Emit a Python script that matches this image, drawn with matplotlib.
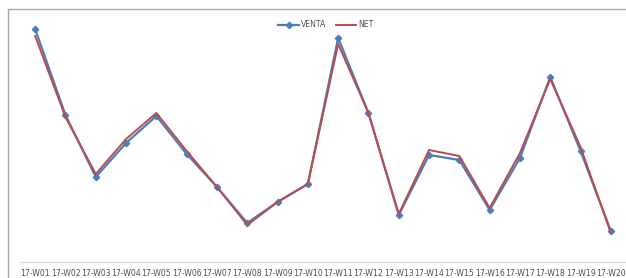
import matplotlib
matplotlib.use("Agg")
import matplotlib.pyplot as plt
from matplotlib.patches import Rectangle

# weekly values (arbitrary units)
weeks = [f"17-W{i:02d}" for i in range(1, 21)]
venta = [2330, 1470, 850, 1190, 1460, 1080, 750, 390, 600, 780,
         2240, 1490, 470, 1070, 1020, 520, 1040, 1850, 1110, 310]
net = [2260, 1450, 880, 1230, 1490, 1110, 750, 370, 600, 780,
       2180, 1490, 480, 1120, 1060, 540, 1090, 1830, 1150, 290]

BLUE = "#4a7ebb"
RED = "#be4b48"

fig = plt.figure(figsize=(6.26, 2.78), dpi=100)
ax = fig.add_axes([20 / 626, 16 / 278, 606 / 626, 245 / 278])

x = range(len(weeks))
ax.plot(x, venta, color=BLUE, lw=1.6, marker="D", ms=3.2, label="VENTA", zorder=2)
ax.plot(x, net, color=RED, lw=1.4, label="NET", zorder=3)

ax.set_xlim(-0.5, len(weeks) - 0.5)
ax.set_ylim(0, 2450)
ax.set_xticks(list(x))
ax.set_xticklabels(weeks, fontsize=5.6, color="#505050")
ax.tick_params(axis="x", length=0, pad=5)
ax.set_yticks([])
for s in ["top", "right", "left"]:
    ax.spines[s].set_visible(False)
ax.spines["bottom"].set_color("#d9d9d9")
ax.spines["bottom"].set_linewidth(1.0)

ax.legend(loc="upper center", bbox_to_anchor=(0.505, 1.015), ncol=2, frameon=False,
          fontsize=5.6, handlelength=2.6, columnspacing=1.2, handletextpad=0.3,
          labelcolor="#505050")

# chart frame (left and top edges visible)
fig.patches.append(Rectangle((8 / 626, -0.1), 1.2, (278 - 9) / 278 + 0.1,
                             transform=fig.transFigure, fill=False,
                             edgecolor="#a6a6a6", lw=1.0))

fig.savefig("out.png", dpi=100)
